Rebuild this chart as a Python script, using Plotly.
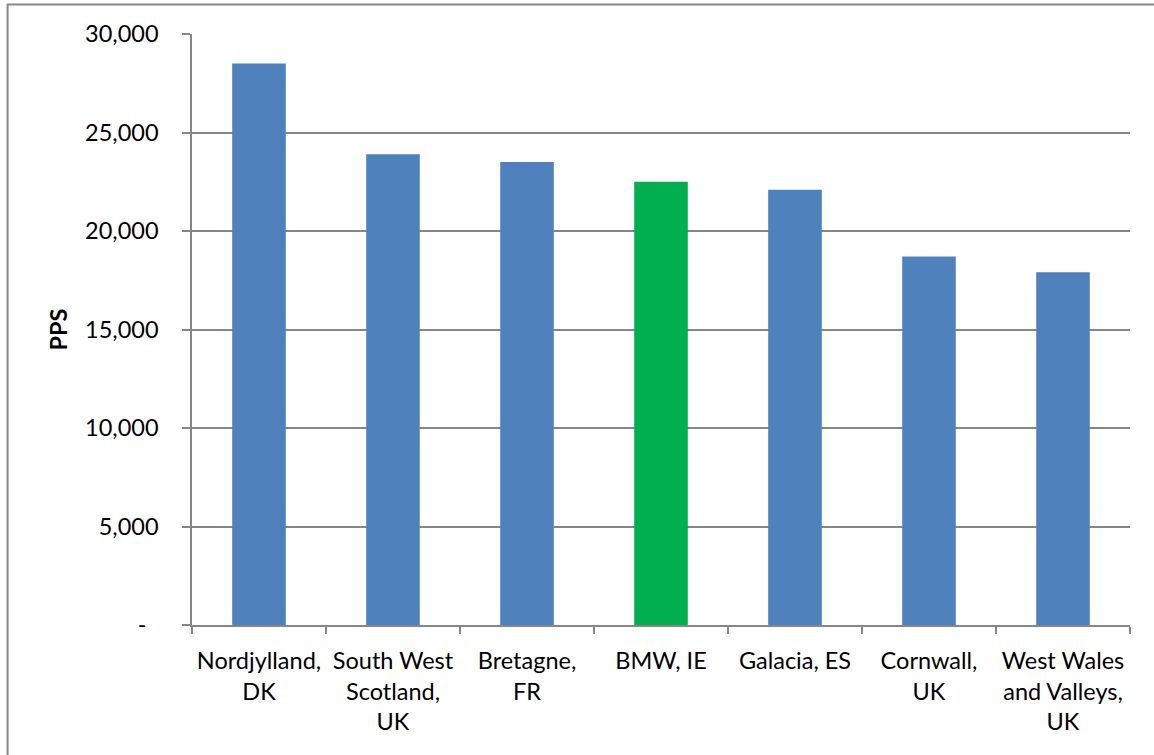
import plotly.graph_objects as go

categories = ["Nordjylland,<br>DK", "South West<br>Scotland,<br>UK", "Bretagne,<br>FR",
              "BMW, IE", "Galacia, ES", "Cornwall,<br>UK", "West Wales<br>and Valleys,<br>UK"]
values = [28500, 23900, 23500, 22500, 22100, 18700, 17900]
bar_colors = ["#4F81BD", "#4F81BD", "#4F81BD", "#00B050", "#4F81BD", "#4F81BD", "#4F81BD"]
y_tickvals = [0, 5000, 10000, 15000, 20000, 25000, 30000]
y_ticktext = ["-\u00a0\u00a0", "5,000", "10,000", "15,000", "20,000", "25,000", "30,000"]
y_title = "PPS"

W, H = 1154, 755
L, R, T, B = 191.5, 24, 34, 130.3
PW, PH = W - L - R, H - T - B

def px_x(p):
    return (p - L) / PW

def px_y(p):
    return (H - B - p) / PH

FONT = "Lato"
FS = 23.5
GRID = "#868686"

fig = go.Figure(go.Bar(
    x=categories, y=values, marker=dict(color=bar_colors, line=dict(width=0)),
    hoverinfo="x+y",
))

fig.update_layout(
    width=W, height=H,
    margin=dict(l=L, r=R, t=T, b=B, autoexpand=False),
    paper_bgcolor="white", plot_bgcolor="white",
    bargap=0.6, showlegend=False,
    font=dict(family=FONT, size=FS, color="#000000"),
    shapes=[dict(type="rect", xref="paper", yref="paper",
                 x0=px_x(7), x1=px_x(1170), y0=px_y(770), y1=px_y(4.5),
                 line=dict(color="#878787", width=2), fillcolor="rgba(0,0,0,0)",
                 layer="below")],
)

fig.update_xaxes(
    showline=True, linecolor=GRID, linewidth=1.5,
    ticks="outside", tickson="boundaries", ticklen=7, tickcolor=GRID, tickwidth=1.5,
    showgrid=False, tickfont=dict(family=FONT, size=FS, color="#000000"),
    tickangle=0, ticklabelstandoff=14,
)
fig.update_yaxes(
    range=[0, 30000], tickvals=y_tickvals, ticktext=y_ticktext,
    showline=True, linecolor=GRID, linewidth=1.5,
    ticks="outside", ticklen=8, tickcolor=GRID, tickwidth=1.5,
    showgrid=True, gridcolor=GRID, gridwidth=1.5, zeroline=False,
    tickfont=dict(family=FONT, size=FS, color="#000000"),
    ticklabelstandoff=19,
    title=dict(text="<b>" + y_title + "</b>", font=dict(family=FONT, size=FS, color="#000000"), standoff=11),
)

fig.write_html("out.html", config={"displayModeBar": False},
               post_script="document.body.style.margin='0';")
